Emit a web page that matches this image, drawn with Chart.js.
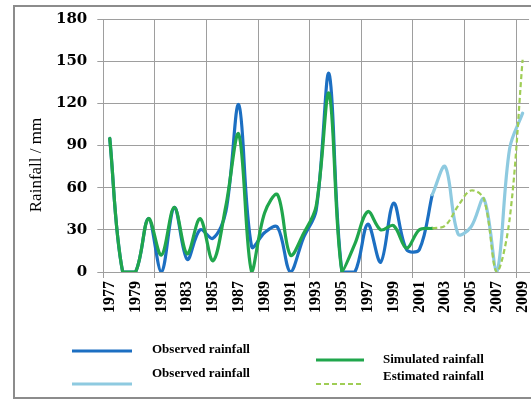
<!DOCTYPE html>
<html>
<head>
<meta charset="utf-8">
<script src="https://cdn.jsdelivr.net/npm/chart.js@4.4.1/dist/chart.umd.min.js"></script>
<style>
  html, body { margin: 0; padding: 0; background: #fff; overflow: hidden; width: 531px; height: 400px; }
  canvas { display: block; }
</style>
</head>
<body>
<canvas id="rain" width="545" height="400"></canvas>
<script>
// Annual rainfall, 1977-2009 (mm)
const years = ['1977','1978','1979','1980','1981','1982','1983','1984','1985','1986',
               '1987','1988','1989','1990','1991','1992','1993','1994','1995','1996',
               '1997','1998','1999','2000','2001','2002','2003','2004','2005','2006',
               '2007','2008','2009'];

// Observed rainfall, calibration period (dark blue)
const observed = [95, 0, 0, 38, 0, 46, 9, 30, 24, 43,
                  119, 18, 28, 32, 0, 24, 44, 141, 0, 0,
                  34, 7, 49, 16, 16, 55, null, null, null, null,
                  null, null, null];

// Simulated rainfall (green)
const simulated = [95, 0, 0, 38, 12, 46, 13, 38, 8, 47,
                   98, 0, 42, 55, 12, 27, 47, 127, 0, 20,
                   43, 30, 33, 17, 30, 31, null, null, null, null,
                   null, null, null];

// Observed rainfall, validation period (light blue)
const observedLater = [null, null, null, null, null, null, null, null, null, null,
                       null, null, null, null, null, null, null, null, null, null,
                       null, null, null, null, null, 55, 75, 27, 32, 52,
                       0, 88, 113];

// Estimated rainfall (dashed light green)
const estimated = [null, null, null, null, null, null, null, null, null, null,
                   null, null, null, null, null, null, null, null, null, null,
                   null, null, null, null, null, 31, 33, 47, 58, 52,
                   0, 38, 151];

const yTicks = [0, 30, 60, 90, 120, 150, 180];
const yTitle = 'Rainfall / mm';

const GRID = '#9e9e9e';

// Outer frame around the whole figure
const framePlugin = {
  id: 'frame',
  beforeDraw(chart) {
    const ctx = chart.ctx;
    ctx.save();
    ctx.fillStyle = '#ffffff';
    ctx.fillRect(0, 0, chart.width, chart.height);
    ctx.strokeStyle = '#8c8c8c';
    ctx.lineWidth = 2;
    ctx.strokeRect(14, 6, chart.width + 20, 392);
    ctx.restore();
  }
};

// Vertical axis title and the two-column legend
const extrasPlugin = {
  id: 'extras',
  afterDraw(chart) {
    const ctx = chart.ctx;
    ctx.save();
    ctx.fillStyle = '#000';
    ctx.font = '17px "Liberation Serif", "Times New Roman", serif';
    ctx.textAlign = 'center';
    ctx.textBaseline = 'middle';
    ctx.translate(37, 165);
    ctx.rotate(-Math.PI / 2);
    ctx.fillText(yTitle, 0, 0);
    ctx.restore();

    const slots = [
      { x0: 72,  x1: 132, ly: 351, tx: 152, ty: 350 },
      { x0: 316, x1: 364, ly: 360, tx: 383, ty: 360 },
      { x0: 72,  x1: 132, ly: 384, tx: 152, ty: 374 },
      { x0: 316, x1: 364, ly: 384, tx: 383, ty: 377 }
    ];
    chart.data.datasets.forEach((ds, i) => {
      const s = slots[i];
      ctx.save();
      ctx.strokeStyle = ds.borderColor;
      ctx.lineWidth = ds.borderWidth;
      ctx.setLineDash(ds.borderDash || []);
      ctx.beginPath();
      ctx.moveTo(s.x0, s.ly);
      ctx.lineTo(s.x1, s.ly);
      ctx.stroke();
      ctx.setLineDash([]);
      ctx.fillStyle = '#000';
      ctx.font = 'bold 13px "Liberation Serif", "Times New Roman", serif';
      ctx.textAlign = 'left';
      ctx.textBaseline = 'middle';
      ctx.fillText(ds.label, s.tx, s.ty);
      ctx.restore();
    });
  }
};

const lineStyle = {
  pointRadius: 0,
  pointHoverRadius: 0,
  tension: 0.35,
  fill: false,
  spanGaps: false,
  borderCapStyle: 'round',
  borderJoinStyle: 'round'
};

new Chart(document.getElementById('rain'), {
  type: 'line',
  data: {
    labels: years,
    datasets: [
      Object.assign({ label: 'Observed rainfall', data: observed,
        borderColor: '#1c6fc2', borderWidth: 3.2, order: 3 }, lineStyle),
      Object.assign({ label: 'Simulated rainfall', data: simulated,
        borderColor: '#20a64c', borderWidth: 3.2, order: 2 }, lineStyle),
      Object.assign({ label: 'Observed rainfall', data: observedLater,
        borderColor: '#8ecae0', borderWidth: 3.2, order: 1 }, lineStyle),
      Object.assign({ label: 'Estimated rainfall', data: estimated,
        borderColor: '#9fcd55', borderWidth: 2.2, borderDash: [5, 3], order: 0 },
        lineStyle, { borderCapStyle: 'butt' })
    ]
  },
  options: {
    responsive: false,
    animation: false,
    devicePixelRatio: 1,
    layout: { padding: { left: 46, right: 13, top: 18, bottom: 84 } },
    plugins: {
      legend: { display: false },
      tooltip: { enabled: false }
    },
    scales: {
      x: {
        type: 'category',
        offset: true,
        grid: {
          offset: true,
          tickLength: 6,
          lineWidth: 1,
          color: (c) => (c.index % 4 === 0 ? GRID : 'rgba(0,0,0,0)')
        },
        border: { color: GRID, width: 1 },
        ticks: {
          autoSkip: false,
          minRotation: 90,
          maxRotation: 90,
          padding: 3,
          color: '#000',
          font: { family: '"Liberation Serif", "Times New Roman", serif', size: 16, weight: 'bold' },
          callback: function (value, index) {
            return index % 2 === 0 ? this.getLabelForValue(value) : '';
          }
        }
      },
      y: {
        min: 0,
        max: 180,
        afterBuildTicks: (scale) => { scale.ticks = yTicks.map(v => ({ value: v })); },
        grid: { color: GRID, lineWidth: 1, tickLength: 6 },
        border: { color: GRID, width: 1 },
        ticks: {
          padding: 10,
          color: '#000',
          font: { family: '"DejaVu Serif", serif', size: 15, weight: 'bold' }
        }
      }
    }
  },
  plugins: [framePlugin, extrasPlugin]
});
</script>
</body>
</html>
